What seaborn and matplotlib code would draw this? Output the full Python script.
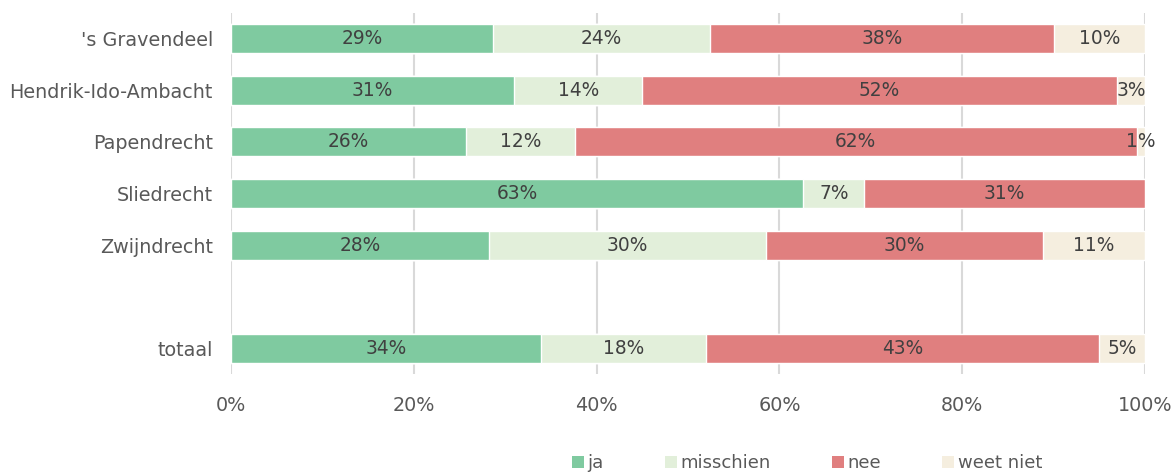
import pandas as pd
import seaborn as sns
from matplotlib import pyplot as plt
from matplotlib.patches import Patch

# data (percentages)
places = ["'s Gravendeel", "Hendrik-Ido-Ambacht", "Papendrecht", "Sliedrecht", "Zwijndrecht", "totaal"]
ja = [28.7, 31.0, 25.7, 62.6, 28.2, 33.9]
misschien = [23.7, 14.0, 11.9, 6.7, 30.3, 18.1]
nee = [37.6, 51.9, 61.5, 30.7, 30.3, 43.0]
weet_niet = [10.0, 3.1, 0.9, 0.0, 11.2, 5.0]

answers = ["ja", "misschien", "nee", "weet niet"]
colors = ["#7fcaa0", "#e2efda", "#e07f7f", "#f5eedf"]

# empty slot between the municipalities and the total
order = places[:5] + [" "] + places[5:]

df = pd.DataFrame({"place": places, "ja": ja, "misschien": misschien,
                   "nee": nee, "weet niet": weet_niet})
cum = df[answers].cumsum(axis=1)
left = cum - df[answers]

sns.set_style("white")
plt.rcParams["font.family"] = ["DejaVu Sans"]

fig = plt.figure(figsize=(11.74, 4.72), dpi=100)
ax = fig.add_axes([231 / 1174, 1 - 374 / 472, 914 / 1174, 361 / 472])

# stacked bars: draw cumulative totals from back to front
for answer, color in reversed(list(zip(answers, colors))):
    sns.barplot(x=cum[answer], y=df["place"], order=order, orient="h",
                color=color, width=0.56, saturation=1, ax=ax, zorder=2)

# percentage labels in the middle of each segment
for answer in answers:
    for i, place in enumerate(places):
        val = df.loc[i, answer]
        if val <= 0:
            continue
        ax.text(left.loc[i, answer] + val / 2, order.index(place), f"{round(val)}%",
                ha="center", va="center", fontsize=13.4, color="#404040", zorder=3)

ax.set_xlim(0, 100)
ax.set_ylim(6.49, -0.49)
ax.set_xticks(range(0, 101, 20))
ax.set_xticklabels([f"{t}%" for t in range(0, 101, 20)])
ax.xaxis.grid(True, color="#d9d9d9", linewidth=1.5, zorder=0)
ax.set_axisbelow(True)
ax.tick_params(axis="both", length=0, labelsize=13.8, labelcolor="#595959")
ax.tick_params(axis="x", pad=16)
ax.tick_params(axis="y", pad=13)
ax.set_xlabel("")
ax.set_ylabel("")
sns.despine(ax=ax, left=True, bottom=True)

handles = [Patch(facecolor=c, edgecolor="none") for c in colors]
leg = fig.legend(handles, answers, loc="center", ncol=4, frameon=False,
                 bbox_to_anchor=(807 / 1174, 1 - 463 / 472), fontsize=13,
                 handlelength=0.65, handleheight=0.65, handletextpad=0.2,
                 columnspacing=3.4)
for t in leg.get_texts():
    t.set_color("#595959")

fig.savefig("out.png", dpi=100)
